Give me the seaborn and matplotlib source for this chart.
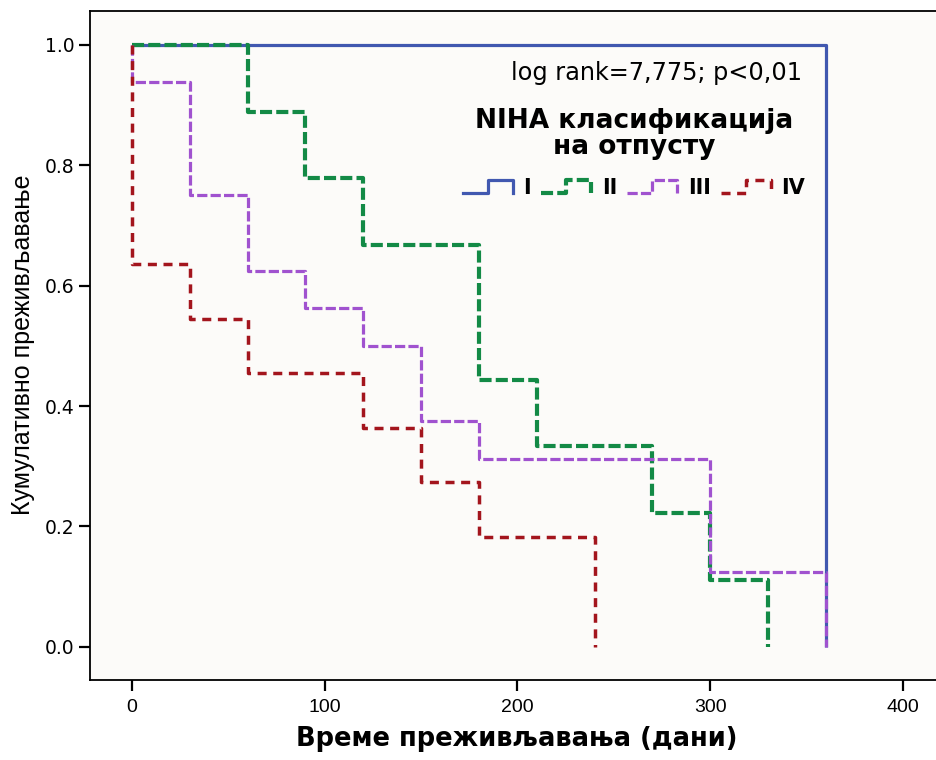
import numpy as np
import pandas as pd
import matplotlib
matplotlib.use("Agg")
import matplotlib.pyplot as plt
import seaborn as sns
from matplotlib.lines import Line2D
from matplotlib.legend_handler import HandlerLine2D

# ---- data (Kaplan-Meier step values) ----
groups = ["I", "II", "III", "IV"]
time_I = [0, 360]
surv_I = [1.0, 0.0]
time_II = [0, 60, 90, 120, 180, 210, 270, 300, 330]
surv_II = [1.0, 0.889, 0.778, 0.667, 0.444, 0.333, 0.222, 0.111, 0.0]
time_III = [0, 0, 30, 60, 90, 120, 150, 180, 300, 360]
surv_III = [1.0, 0.9375, 0.75, 0.625, 0.5625, 0.5, 0.375, 0.3125, 0.125, 0.0]
time_IV = [0, 0, 30, 60, 120, 150, 180, 240]
surv_IV = [1.0, 0.636, 0.545, 0.455, 0.364, 0.273, 0.182, 0.0]
x_ticks = [0, 100, 200, 300, 400]
y_ticks = [0.0, 0.2, 0.4, 0.6, 0.8, 1.0]

times = {"I": time_I, "II": time_II, "III": time_III, "IV": time_IV}
survs = {"I": surv_I, "II": surv_II, "III": surv_III, "IV": surv_IV}
df = pd.concat([pd.DataFrame({"t": times[g], "s": survs[g], "g": g}) for g in groups],
               ignore_index=True)

colors = {"I": "#4158b0", "II": "#138a46", "III": "#a052cf", "IV": "#a3151d"}
widths = {"I": 2.3, "II": 3.0, "III": 2.3, "IV": 2.5}
dashes = {"I": "", "II": (2.9, 1.0), "III": (3.2, 1.0), "IV": (2.6, 1.9)}

fig = plt.figure(figsize=(9.37, 7.6), dpi=100)
ax = fig.add_axes([90 / 937, 1 - 680 / 760, 1 - 90 / 937, (680 - 11) / 760])
ax.set_facecolor("#fcfbf9")

sns.lineplot(data=df, x="t", y="s", hue="g", style="g", hue_order=groups,
             style_order=groups, palette=colors, dashes=dashes,
             estimator=None, sort=False, drawstyle="steps-post",
             legend=False, ax=ax)
for line, g in zip(ax.lines, groups):
    line.set_linewidth(widths[g])
    line.set_dash_capstyle("butt")
    line.set_solid_capstyle("butt")

ax.set_xlim(-21.8, 417.7)
ax.set_ylim(-0.055, 1.056)
ax.set_xticks(x_ticks)
ax.set_xticklabels([str(v) for v in x_ticks], fontfamily="Liberation Sans", fontsize=14)
ax.set_yticks(y_ticks)
ax.set_yticklabels([f"{v:.1f}" for v in y_ticks], fontfamily="DejaVu Sans", fontsize=13.5)
ax.tick_params(axis="both", direction="out", length=8, width=1.6, color="black", pad=3)
ax.tick_params(axis="x", pad=6)
ax.set_xlabel("")
ax.set_ylabel("")
for side in ["left", "bottom", "top"]:
    ax.spines[side].set_color("black")
    ax.spines[side].set_linewidth(1.3)
ax.spines["right"].set_visible(False)

fig.text(517 / 937, 1 - 746 / 760, "Време преживљавања (дани)", ha="center",
         va="baseline", fontfamily="DejaVu Sans", fontweight="bold", fontsize=18.5)
fig.text(23 / 937, 1 - 345 / 760, "Кумулативно преживљавање", rotation=90,
         ha="center", va="center", fontfamily="Liberation Sans", fontsize=18)
fig.text(802 / 937, 1 - 80 / 760, "log rank=7,775; p<0,01", ha="right",
         va="baseline", fontfamily="DejaVu Sans", fontsize=17.3)


class StepHandler(HandlerLine2D):
    def create_artists(self, legend, orig_handle, xdescent, ydescent, width,
                       height, fontsize, trans):
        xs = np.array([0, 0.5, 0.5, 1.0, 1.0]) * width - xdescent
        ys = np.array([0.1, 0.1, 0.95, 0.95, 0.05]) * height - ydescent
        ln = Line2D(xs, ys)
        self.update_prop(ln, orig_handle, legend)
        ln.set_transform(trans)
        return [ln]


handles = [Line2D([], [], color=colors[g], lw=widths[g],
                  linestyle=(0, dashes[g]) if dashes[g] else "-") for g in groups]
leg = fig.legend(handles, groups, ncol=4, loc="upper center",
                 bbox_to_anchor=(634 / 937, 1 - 100 / 760),
                 title="NIHA класификација\nна отпусту", frameon=False,
                 prop={"family": "DejaVu Sans", "weight": "bold", "size": 15},
                 title_fontproperties={"family": "DejaVu Sans", "weight": "bold", "size": 19},
                 handlelength=2.4, handleheight=0.7, handletextpad=0.5,
                 columnspacing=0.5, labelspacing=0.85, borderaxespad=0,
                 handler_map={Line2D: StepHandler()})
leg._legend_box.align = "center"
leg.get_title().set_multialignment("center")
leg.get_title().set_linespacing(1.0)

fig.savefig("out.png", dpi=100, facecolor="white")
